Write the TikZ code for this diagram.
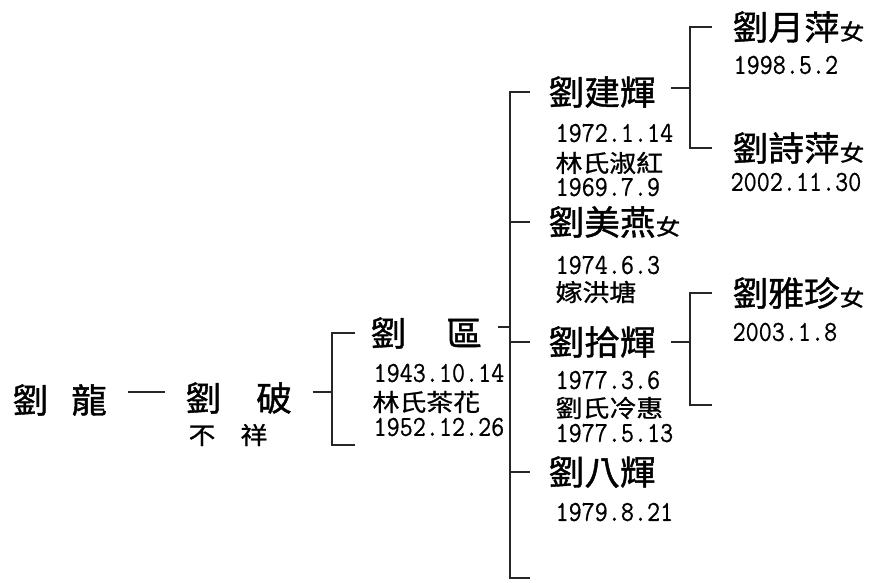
\documentclass[tikz,border=0pt]{standalone}
\usepackage{fontspec}
\newfontfamily\cjkbig[FakeStretch=1.05, FakeBold=1.2]{Noto Sans CJK TC}
\newfontfamily\cjksmall[FakeStretch=1.12, FakeBold=0.9]{Noto Sans CJK TC}
\newfontfamily\datefont[FakeStretch=0.875, FakeBold=0.6]{Latin Modern Mono}
\usetikzlibrary{positioning}
\newcommand\girl{{\cjksmall\fontsize{22}{22}\selectfont 女}}
\tikzset{
  person/.style={anchor=west, inner sep=0pt, font=\cjkbig\fontsize{34}{34}\selectfont},
  note/.style={anchor=west, inner sep=0pt, font=\cjksmall\fontsize{24}{24}\selectfont},
  date/.style={anchor=west, inner sep=0pt, font=\datefont\fontsize{29}{29}\selectfont},
}

\begin{document}
\begin{tikzpicture}[x=1pt, y=-1pt, line width=1.2pt, draw=black!85]
	\useasboundingbox (0,0) rectangle (869,582);
	% Generation 1 and 2
	\node[person] (long) at (12,400) {劉\hspace{23pt}龍};
	\node[person] (po) at (185,398) {劉\hspace{35pt}破};
	\node[note] (poNote) at (188,435) {不\hspace{25pt}祥};
	% Generation 3
	\node[person] (ou) at (370,333) {劉\hspace{40pt}區};
	\node[date] (ouBirth) at (373,373) {1943.10.14};
	\node[note] (ouWife) at (372,402) {林氏茶花};
	\node[date] (ouWifeBirth) at (373,427) {1952.12.26};
	% Generation 4
	\node[person] (kenhui) at (548,92) {劉建輝};
	\node[date] (kenBirth) at (555,133) {1972.1.14};
	\node[note] (kenWife) at (555,163) {林氏淑紅};
	\node[date] (kenWifeBirth) at (555,187) {1969.7.9};
	\node[person] (meiyan) at (548,222) {劉美燕\girl};
	\node[date] (meiBirth) at (555,265) {1974.6.3};
	\node[note] (meiMarry) at (555,292) {嫁洪塘};
	\node[person] (shihui) at (548,342) {劉拾輝};
	\node[date] (shiBirth) at (555,380) {1977.3.6};
	\node[note] (shiWife) at (555,408) {劉氏冷惠};
	\node[date] (shiWifeBirth) at (555,433) {1977.5.13};
	\node[person] (bahui) at (548,472) {劉八輝};
	\node[date] (baBirth) at (555,512) {1979.8.21};
	% Generation 5
	\node[person] (yueping) at (732,27) {劉月萍\girl};
	\node[date] (yueBirth) at (733,65) {1998.5.2};
	\node[person] (shiping) at (732,148) {劉詩萍\girl};
	\node[date] (shipBirth) at (730,182) {2002.11.30};
	\node[person] (yazhen) at (732,293) {劉雅珍\girl};
	\node[date] (yaBirth) at (732,332) {2003.1.8};
	% Junctions
	\coordinate (poJ) at (332,392);
	\coordinate (poEnd) at (355,445);
	\coordinate (ouJ) at (510,327);
	\coordinate (ouEnd) at (530,578);
	\coordinate (kenJ) at (690,88);
	\coordinate (shiJ) at (690,342);
	\coordinate (shiEnd) at (712,405);
	% Edges
	\draw[line width=1.6pt, shorten <=20pt, shorten >=20pt] (long.east |- poJ) -- (po.west |- poJ);
	\draw[shorten <=20pt] (po.east |- poJ) -- (poJ);
	\draw[shorten <=15pt] (ou.west) -- (ou.west -| poJ) -- (poJ |- poEnd) -- (poEnd);
	\draw[shorten <=15pt] (ou.east |- ouJ) -- (ouJ);
	\draw[shorten <=18pt] (kenhui.west) -- (kenhui.west -| ouJ) -- (ouJ |- ouEnd) -- (ouEnd);
	\foreach \kid in {meiyan,shihui,bahui}
		\draw[shorten <=18pt] (\kid.west) -- (\kid.west -| ouJ);
	\draw[shorten <=15pt] (kenhui.east |- kenJ) -- (kenJ);
	\draw[shorten <=20pt, shorten >=20pt] (yueping.west) -- (yueping.west -| kenJ) -- (kenJ |- shiping.west) -- (shiping.west);
	\draw[shorten <=15pt] (shihui.east |- shiJ) -- (shiJ);
	\draw[shorten <=20pt] (yazhen.west) -- (yazhen.west -| shiJ) -- (shiJ |- shiEnd) -- (shiEnd);
\end{tikzpicture}
\end{document}
